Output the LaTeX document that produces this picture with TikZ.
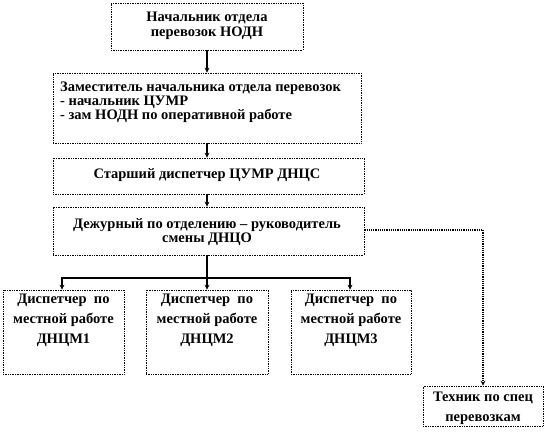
\documentclass[tikz,border=0pt]{standalone}
\usepackage{fontspec}
\setmainfont{Liberation Serif}
\usetikzlibrary{arrows.meta}
\begin{document}
\begin{tikzpicture}[x=1pt,y=-1pt,
  box/.style={draw=black, densely dotted, line width=0.7pt, fill=white, inner sep=0pt, anchor=center},
  txt/.style={font=\bfseries\fontsize{14.5}{14}\selectfont, align=center, inner sep=0pt},
  conn/.style={line width=1.6pt, -{Stealth[length=5pt,width=5pt]}},
  link/.style={line width=1.6pt},
  dconn/.style={densely dotted, line width=1.2pt, -{Stealth[length=5pt,width=5pt]}}]
\useasboundingbox (0,0) rectangle (545,438);
% boxes
\node[box, minimum width=192pt, minimum height=47pt] (b1) at (207,26.5) {};
\node[box, minimum width=308pt, minimum height=70pt] (b2) at (207,108) {};
\node[box, minimum width=311pt, minimum height=36pt] (b3) at (208.5,176) {};
\node[box, minimum width=311pt, minimum height=48pt] (b4) at (208.5,231) {};
\node[box, minimum width=121pt, minimum height=84pt] (d1) at (63.5,332) {};
\node[box, minimum width=122pt, minimum height=84pt] (d2) at (207,332) {};
\node[box, minimum width=120pt, minimum height=84pt] (d3) at (351,332) {};
\node[box, minimum width=120pt, minimum height=40pt] (t) at (483,406) {};
% texts
\node[txt, font=\bfseries\fontsize{14.5}{15}\selectfont] (t1) at (207,25.5) {Начальник отдела\\перевозок НОДН};
\node[txt, align=left, anchor=west] (t2) at (60,102) {Заместитель начальника отдела перевозок\\- начальник ЦУМР\\- зам НОДН по оперативной работе};
\node[txt] (t3) at (207,175.5) {Старший диспетчер ЦУМР ДНЦС};
\node[txt] (t4) at (207,232) {Дежурный по отделению -- руководитель\\смены ДНЦО};
\node[txt, font=\bfseries\fontsize{14.5}{20}\selectfont] (td1) at (63.5,320) {Диспетчер\ \ по\\местной работе\\ДНЦМ1};
\node[txt, font=\bfseries\fontsize{14.5}{20}\selectfont] (td2) at (207,320) {Диспетчер\ \ по\\местной работе\\ДНЦМ2};
\node[txt, font=\bfseries\fontsize{14.5}{20}\selectfont] (td3) at (351,320) {Диспетчер\ \ по\\местной работе\\ДНЦМ3};
\node[txt, font=\bfseries\fontsize{14.5}{20}\selectfont] (tt) at (483,408) {Техник по спец\\перевозкам};
% connectors
\draw[conn] (b1.south -| 207,0) -- (b2.north -| 207,0);
\draw[conn] (b2.south -| 207,0) -- (b3.north -| 207,0);
\draw[conn] (b3.south -| 207,0) -- (b4.north -| 207,0);
\coordinate (j) at (207,278);
\draw[link] (b4.south -| 207,0) -- (j);
\draw[conn] (j) -- (62,278) -- (d1.north -| 62,0);
\draw[conn] (j) -- (d2.north -| 207,0);
\draw[conn] (j) -- (350,278) -- (d3.north -| 350,0);
\draw[dconn] (b4.east |- 0,230) -- (483,230) -- (t.north);
\end{tikzpicture}
\end{document}
